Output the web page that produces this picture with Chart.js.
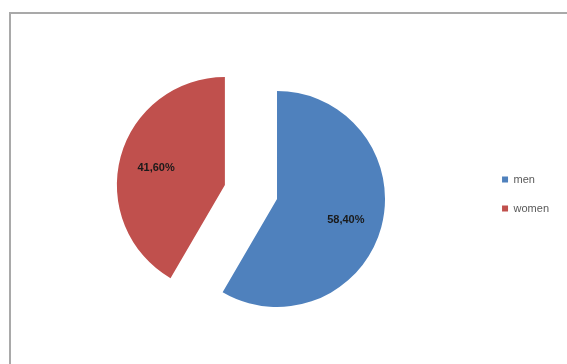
<!DOCTYPE html>
<html>
<head>
<meta charset="utf-8">
<script src="https://cdn.jsdelivr.net/npm/chart.js@4/dist/chart.umd.min.js"></script>
<style>
  html, body { margin: 0; padding: 0; background: #ffffff; }
  body { width: 567px; height: 364px; position: relative; overflow: hidden; }
  #frame { position: absolute; left: 9px; top: 12px; width: 600px; height: 400px;
           border-top: 2px solid #a9a9a9; border-left: 2px solid #a9a9a9; }
  #wrap { position: absolute; left: 0; top: 0; width: 567px; height: 364px; }
</style>
</head>
<body>
<div id="frame"></div>
<div id="wrap"><canvas id="c" width="567" height="364"></canvas></div>
<script>
const categories = ["men", "women"];
const shares = [58.4, 41.6];
const valueLabels = ["58,40%", "41,60%"];
const sliceColors = ["#4F81BD", "#C0504D"];

// pixel distance each slice is pulled out of the pie (style, not data)
const EXPLODE = [0, 54];

const sliceLabels = {
  id: 'sliceLabels',
  afterLayout(chart) {
    const lg = chart.legend;
    if (lg) { lg.top -= 5; lg.bottom -= 5; }
  },
  beforeDatasetsDraw(chart) {
    const meta = chart.getDatasetMeta(0);
    meta.data.forEach((arc, i) => {
      if (arc._exploded) return;
      const orig = arc.draw;
      arc.draw = function (ctx, area) {
        const e = EXPLODE[i] || 0;
        const mid = (this.startAngle + this.endAngle) / 2;
        ctx.save();
        ctx.translate(Math.cos(mid) * e, Math.sin(mid) * e);
        orig.call(this, ctx, area);
        ctx.restore();
      };
      arc._exploded = true;
    });
  },
  afterDatasetsDraw(chart) {
    const ctx = chart.ctx;
    const meta = chart.getDatasetMeta(0);
    ctx.save();
    ctx.font = 'bold 11px "Liberation Sans", Arial, sans-serif';
    ctx.fillStyle = '#1a1a1a';
    ctx.textAlign = 'center';
    ctx.textBaseline = 'middle';
    meta.data.forEach((arc, i) => {
      const mid = (arc.startAngle + arc.endAngle) / 2;
      const d = (EXPLODE[i] || 0) + arc.outerRadius * 0.66;
      ctx.fillText(valueLabels[i], arc.x + Math.cos(mid) * d, arc.y + Math.sin(mid) * d + 2);
    });
    ctx.restore();
  }
};

new Chart(document.getElementById('c'), {
  type: 'pie',
  data: {
    labels: categories,
    datasets: [{
      data: shares,
      backgroundColor: sliceColors,
      borderWidth: 0,
      hoverOffset: 0
    }]
  },
  options: {
    responsive: false,
    animation: false,
    radius: 108,
    layout: { padding: { left: 70, right: 8, top: 40, bottom: 6 } },
    plugins: {
      legend: {
        position: 'right',
        labels: {
          boxWidth: 6,
          boxHeight: 6,
          padding: 18,
          color: '#595959',
          font: { size: 11, family: '"Liberation Sans", Arial, sans-serif' }
        }
      },
      tooltip: { enabled: false }
    }
  },
  plugins: [sliceLabels]
});
</script>
</body>
</html>
